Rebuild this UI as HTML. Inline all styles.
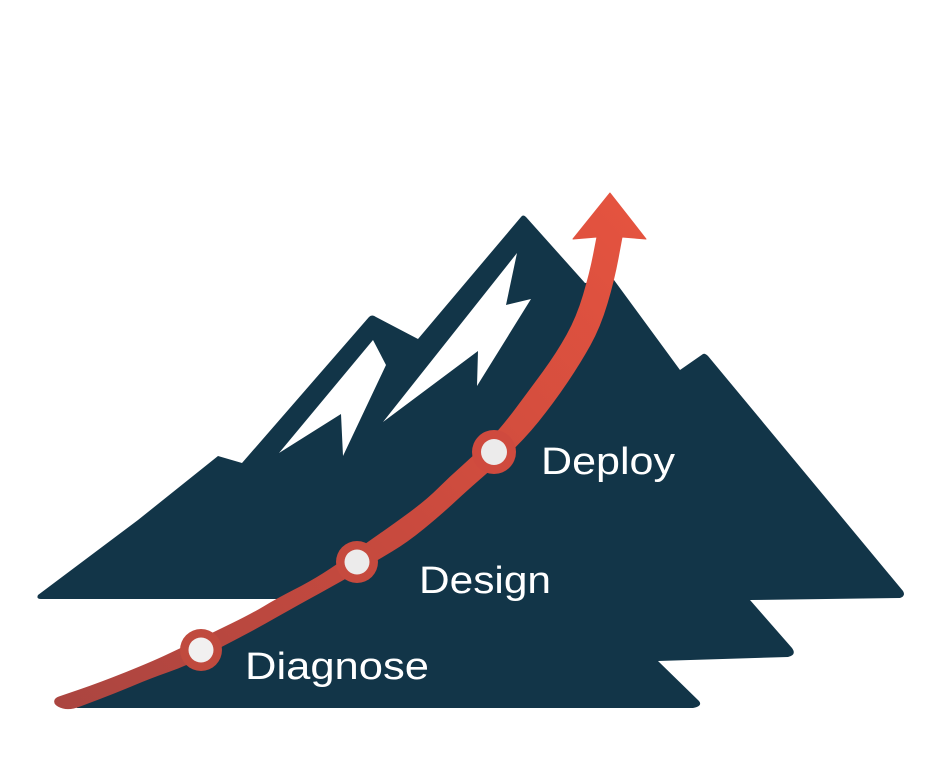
<!DOCTYPE html>
<html>
<head>
<meta charset="utf-8">
<style>
html,body{margin:0;padding:0;background:#fff}
svg{display:block}
text{font-family:"Liberation Sans",sans-serif;font-size:38px;fill:#fff}
</style>
</head>
<body>
<svg width="940" height="782" viewBox="0 0 940 782" xmlns="http://www.w3.org/2000/svg">
<defs>
<linearGradient id="g" gradientUnits="userSpaceOnUse" x1="60" y1="705" x2="610" y2="195">
<stop offset="0" stop-color="#ab4540"/>
<stop offset="0.5" stop-color="#c94a3e"/>
<stop offset="1" stop-color="#e4533f"/>
</linearGradient>
</defs>
<path fill="#123548" d="M38 595 L138 520 L218 456 L242 463 L369 317 Q372 314 376 317 L418 339 L521 217 Q523 214 526 217 L585 283 L614 280 L680 370 L703 354 Q705 353 708 356 L903 591 Q906 596 900 598 L750 600 L792 648 Q797 655 788 657 L658 661 L699 701 Q703 706 693 708 L77 708 L70 703 L150 670 L215 640 L277 607 L285 599 L41 599 Q36 599 38 595 Z"/>
<path fill="#fff" d="M373 340 L386 365 L343 456 L341 414 L279 453 Z"/>
<path fill="#fff" d="M517 253 L506 305 L531 299 L477 386 L478 351 L383 422 Z"/>
<path fill="url(#g)" stroke="url(#g)" stroke-width="1" stroke-linejoin="round" d="M610 193 L646 239 L622 237 L618 258.5 Q614 280 607 303.5 Q600 327 590 345 Q580 363 566.5 383 Q553 403 538 421.5 Q523 440 506.5 455 Q490 470 478.5 480 Q467 490 453.5 502.5 Q440 515 423.5 528.5 Q407 542 392 551 Q377 560 360 570 Q343 580 320 592.5 Q297 605 277 616.5 Q257 628 239.5 637 Q222 646 204.5 655.5 Q187 665 168.5 671.5 Q150 678 133.5 685 Q117 692 98.5 699 L80 706 Q70 710 63 708 Q53 705 55 700 Q56 698 59 697 L79.5 690 Q100 683 125 673 Q150 663 165 656 Q180 649 197.5 640.5 Q215 632 232.5 623.5 Q250 615 263.5 607 Q277 599 293.5 590.5 Q310 582 323.5 573.5 Q337 565 352 554 Q367 543 380 534 Q393 525 410 512.5 Q427 500 438.5 488.5 Q450 477 462.5 466 Q475 455 487.5 442.5 Q500 430 515 410 Q530 390 543.5 371.5 Q557 353 567 335 Q577 317 583.5 295 Q590 273 593.5 255 L597 237 L573 239 Z"/>
<circle cx="201" cy="650" r="21" fill="#c04a3e"/>
<circle cx="201" cy="650" r="12.5" fill="#f1f0f0"/>
<circle cx="357" cy="562" r="21" fill="#c64a3e"/>
<circle cx="357" cy="562" r="12.5" fill="#ecebeb"/>
<circle cx="494" cy="452" r="22" fill="#cf4a3e"/>
<circle cx="494" cy="452" r="13" fill="#ecebeb"/>
<text x="245" y="679" textLength="184" lengthAdjust="spacingAndGlyphs">Diagnose</text>
<text x="419" y="593" textLength="132" lengthAdjust="spacingAndGlyphs">Design</text>
<text x="541" y="474" textLength="134" lengthAdjust="spacingAndGlyphs">Deploy</text>
</svg>
</body>
</html>
